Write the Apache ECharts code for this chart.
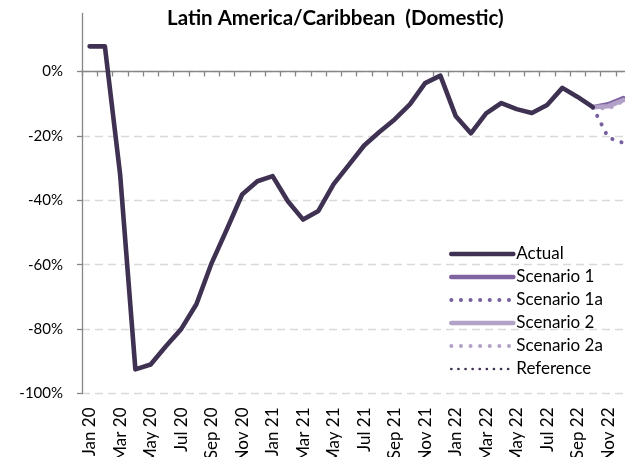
<!DOCTYPE html>
<html>
<head>
<meta charset="utf-8">
<script src="https://cdn.jsdelivr.net/npm/echarts@6/dist/echarts.min.js"></script>
<style>
  html, body { margin: 0; padding: 0; background: #ffffff; }
  #chart { width: 625px; height: 457px; }
</style>
</head>
<body>
<div id="chart"></div>
<script>
// Monthly categories, Jan 2020 – Dec 2022
const months = [
  'Jan 20', 'Feb 20', 'Mar 20', 'Apr 20', 'May 20', 'Jun 20', 'Jul 20', 'Aug 20', 'Sep 20', 'Oct 20', 'Nov 20', 'Dec 20',
  'Jan 21', 'Feb 21', 'Mar 21', 'Apr 21', 'May 21', 'Jun 21', 'Jul 21', 'Aug 21', 'Sep 21', 'Oct 21', 'Nov 21', 'Dec 21',
  'Jan 22', 'Feb 22', 'Mar 22', 'Apr 22', 'May 22', 'Jun 22', 'Jul 22', 'Aug 22', 'Sep 22', 'Oct 22', 'Nov 22', 'Dec 22'
];

// Observed change (%), Jan 20 – Oct 22
const actual = [
  7.8, 7.8, -32, -92.5, -91, -85.3, -80, -72.3, -59.5, -49, -38.2, -34.1,
  -32.5, -40.3, -46, -43.3, -35, -29, -23, -18.8, -14.9, -10.2, -3.6, -1.3,
  -13.8, -19.2, -13, -9.8, -11.7, -12.9, -10.4, -5.1, -7.9, -11.1
];

// Projections (%), Oct 22 – Dec 22
const projectionMonths = ['Oct 22', 'Nov 22', 'Dec 22'];
const scenario1  = [-11.1, -10.2, -8.3];
const scenario1a = [-11.1, -20.5, -22.2];
const scenario2  = [-11.1, -10.8, -8.9];
const scenario2a = [-11.1, -11.6, -9.2];
const reference  = [];

// Value axis (%)
const yMin = -100;
const yMax = 18;
const yStep = 20;

// place a short series onto the full month axis
function onMonths(labels, values) {
  const out = months.map(() => null);
  labels.forEach((m, i) => { if (i < values.length) out[months.indexOf(m)] = values[i]; });
  return out;
}

const FONT = 'Lato';
const AXIS_GREY = '#868686';

// plot frame (the last month runs slightly past the right edge)
const PLOT_LEFT = 82;
const PLOT_WIDTH = 549;
const PLOT_TOP = 13.5;
const PLOT_HEIGHT = 380;
const zeroY = PLOT_TOP + PLOT_HEIGHT * (yMax / (yMax - yMin));

const chart = echarts.init(document.getElementById('chart'), null, { renderer: 'canvas' });

chart.setOption({
  animation: false,
  backgroundColor: '#ffffff',
  title: {
    text: 'Latin America/Caribbean  (Domestic)',
    left: 167,
    top: 8,
    padding: 0,
    textStyle: { fontFamily: FONT, fontSize: 20.5, fontWeight: 'bold', color: '#000000' }
  },
  legend: {
    orient: 'vertical',
    left: 449,
    top: 245.5,
    padding: 0,
    itemWidth: 62,
    itemHeight: 10,
    itemGap: 6,
    itemStyle: { opacity: 0 },
    lineStyle: { width: 'inherit' },
    textStyle: { fontFamily: FONT, fontSize: 17, color: '#000000', padding: [0, 0, 0, -2] },
    data: ['Actual', 'Scenario 1', 'Scenario 1a', 'Scenario 2', 'Scenario 2a', 'Reference']
  },
  grid: [
    // full-height frame holding the lines
    { left: PLOT_LEFT, width: PLOT_WIDTH, top: PLOT_TOP, height: PLOT_HEIGHT,
      containLabel: false, outerBoundsMode: 'none' },
    // negative range only: ticks, labels and dashed gridlines
    { left: PLOT_LEFT, width: PLOT_WIDTH, top: zeroY, height: PLOT_TOP + PLOT_HEIGHT - zeroY,
      containLabel: false, outerBoundsMode: 'none' }
  ],
  xAxis: [
    {
      gridIndex: 0, type: 'category', data: months, position: 'bottom', z: 1,
      boundaryGap: true,
      axisLine: { show: true, onZero: true, lineStyle: { color: AXIS_GREY, width: 1.3 } },
      axisTick: { show: true, interval: 0, length: 5, lineStyle: { color: AXIS_GREY, width: 1.3 } },
      axisLabel: { show: false },
      splitLine: { show: false }
    },
    {
      gridIndex: 0, type: 'category', data: months, position: 'bottom',
      boundaryGap: true,
      axisLine: { show: false, onZero: false },
      axisTick: { show: false },
      axisLabel: {
        show: true, interval: 1, rotate: 90, margin: 14,
        fontFamily: FONT, fontSize: 17, color: '#000000'
      },
      splitLine: { show: false }
    },
    {
      gridIndex: 1, type: 'category', data: months, show: false
    }
  ],
  yAxis: [
    {
      gridIndex: 0, type: 'value', min: yMin, max: yMax,
      axisLine: { show: true, lineStyle: { color: AXIS_GREY, width: 1.3 } },
      axisTick: { show: false },
      axisLabel: { show: false },
      splitLine: { show: false }
    },
    {
      gridIndex: 1, type: 'value', min: yMin, max: 0, interval: yStep, z: 0,
      axisLine: { show: false },
      axisTick: { show: true, length: 5, lineStyle: { color: AXIS_GREY, width: 1.3 } },
      axisLabel: {
        show: true, margin: 19, formatter: '{value}%',
        fontFamily: FONT, fontSize: 15, color: '#000000'
      },
      splitLine: { show: true, lineStyle: { color: '#d9d9d9', width: 1.3, type: [8, 5] } }
    }
  ],
  series: [
    {
      name: 'Actual', type: 'line', xAxisIndex: 0, yAxisIndex: 0, z: 6,
      data: onMonths(months, actual),
      symbol: 'none', clip: false,
      lineStyle: { color: '#3f3151', width: 4.6, cap: 'round', join: 'round' },
      itemStyle: { color: '#3f3151' }
    },
    {
      name: 'Scenario 1', type: 'line', xAxisIndex: 0, yAxisIndex: 0, z: 4,
      data: onMonths(projectionMonths, scenario1),
      symbol: 'none',
      lineStyle: { color: '#8064a2', width: 4.6, cap: 'round', join: 'round' },
      itemStyle: { color: '#8064a2' }
    },
    {
      name: 'Scenario 1a', type: 'line', xAxisIndex: 0, yAxisIndex: 0, z: 3,
      data: onMonths(projectionMonths, scenario1a),
      symbol: 'none',
      lineStyle: { color: '#7760a0', width: 4, type: [0.1, 9.5], cap: 'round', join: 'round' },
      itemStyle: { color: '#7760a0' }
    },
    {
      name: 'Scenario 2', type: 'line', xAxisIndex: 0, yAxisIndex: 0, z: 5,
      data: onMonths(projectionMonths, scenario2),
      symbol: 'none',
      lineStyle: { color: '#b3a2c7', width: 4.6, cap: 'round', join: 'round' },
      itemStyle: { color: '#b3a2c7' }
    },
    {
      name: 'Scenario 2a', type: 'line', xAxisIndex: 0, yAxisIndex: 0, z: 3,
      data: onMonths(projectionMonths, scenario2a),
      symbol: 'none',
      lineStyle: { color: '#b3a2c7', width: 4, type: [0.1, 9.5], cap: 'round', join: 'round' },
      itemStyle: { color: '#b3a2c7' }
    },
    {
      name: 'Reference', type: 'line', xAxisIndex: 0, yAxisIndex: 0, z: 3,
      data: onMonths(projectionMonths, reference),
      symbol: 'none',
      lineStyle: { color: '#403152', width: 2.6, type: [0.1, 7], cap: 'round', join: 'round' },
      itemStyle: { color: '#403152' }
    }
  ]
});
</script>
</body>
</html>
